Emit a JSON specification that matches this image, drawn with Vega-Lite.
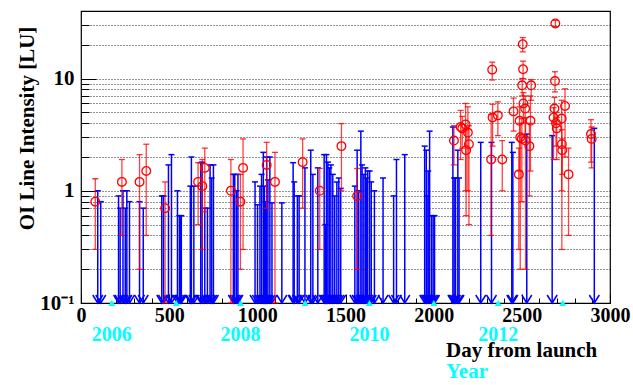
{
  "$schema": "https://vega.github.io/schema/vega-lite/v6.json",
  "width": 529,
  "height": 292,
  "autosize": {"type": "none"},
  "padding": {"left": 81, "top": 11, "right": 23, "bottom": 82},
  "background": "white",
  "config": {
    "view": {"stroke": "black", "strokeWidth": 1.2},
    "font": "Liberation Serif"
  },
  "title": {
    "text": "Day from launch",
    "subtitle": "Year",
    "orient": "bottom",
    "anchor": "start",
    "frame": "group",
    "align": "left",
    "dx": 365,
    "offset": -5,
    "font": "Liberation Serif",
    "fontSize": 21,
    "fontWeight": "bold",
    "color": "black",
    "subtitleFont": "Liberation Serif",
    "subtitleFontSize": 21,
    "subtitleFontWeight": "bold",
    "subtitleColor": "#00ffff",
    "subtitlePadding": 0
  },
  "datasets": {
    "limits": [
      {"day": 95, "ul": 1.0}, {"day": 112, "ul": 0.8}, {"day": 213, "ul": 0.9}, {"day": 222, "ul": 0.7},
      {"day": 238, "ul": 1.0}, {"day": 251, "ul": 0.7}, {"day": 260, "ul": 1.0}, {"day": 275, "ul": 0.8},
      {"day": 332, "ul": 0.8}, {"day": 353, "ul": 0.7}, {"day": 458, "ul": 0.9}, {"day": 468, "ul": 0.9},
      {"day": 496, "ul": 1.7}, {"day": 513, "ul": 2.1}, {"day": 547, "ul": 1.0}, {"day": 558, "ul": 0.6},
      {"day": 564, "ul": 0.6}, {"day": 569, "ul": 0.6}, {"day": 620, "ul": 1.1}, {"day": 626, "ul": 2.0},
      {"day": 640, "ul": 1.1}, {"day": 679, "ul": 1.78}, {"day": 687, "ul": 1.8}, {"day": 702, "ul": 0.7},
      {"day": 717, "ul": 0.7}, {"day": 732, "ul": 1.7}, {"day": 741, "ul": 1.3}, {"day": 751, "ul": 1.7},
      {"day": 864, "ul": 1.4}, {"day": 872, "ul": 1.4}, {"day": 882, "ul": 1.0}, {"day": 890, "ul": 1.4},
      {"day": 987, "ul": 1.2}, {"day": 1001, "ul": 0.75}, {"day": 1015, "ul": 1.1}, {"day": 1024, "ul": 1.4},
      {"day": 1034, "ul": 2.2}, {"day": 1040, "ul": 1.1}, {"day": 1046, "ul": 0.8}, {"day": 1053, "ul": 2.0},
      {"day": 1060, "ul": 1.25}, {"day": 1071, "ul": 2.0}, {"day": 1083, "ul": 0.78}, {"day": 1139, "ul": 0.78},
      {"day": 1203, "ul": 1.78}, {"day": 1209, "ul": 1.2}, {"day": 1227, "ul": 0.9}, {"day": 1237, "ul": 0.9},
      {"day": 1270, "ul": 1.6}, {"day": 1303, "ul": 2.3}, {"day": 1315, "ul": 1.4}, {"day": 1343, "ul": 1.6},
      {"day": 1379, "ul": 2.1}, {"day": 1386, "ul": 0.5}, {"day": 1392, "ul": 2.1}, {"day": 1400, "ul": 1.8},
      {"day": 1408, "ul": 1.6}, {"day": 1417, "ul": 1.7}, {"day": 1428, "ul": 1.4}, {"day": 1439, "ul": 0.9},
      {"day": 1451, "ul": 1.2}, {"day": 1462, "ul": 1.3}, {"day": 1473, "ul": 1.05}, {"day": 1553, "ul": 1.1},
      {"day": 1566, "ul": 2.3}, {"day": 1575, "ul": 1.0}, {"day": 1587, "ul": 3.4}, {"day": 1594, "ul": 1.7},
      {"day": 1604, "ul": 1.4}, {"day": 1613, "ul": 1.6}, {"day": 1620, "ul": 1.3}, {"day": 1626, "ul": 1.5},
      {"day": 1637, "ul": 1.5}, {"day": 1646, "ul": 1.2}, {"day": 1664, "ul": 1.0}, {"day": 1713, "ul": 1.3},
      {"day": 1773, "ul": 0.9}, {"day": 1789, "ul": 1.9}, {"day": 1836, "ul": 2.1}, {"day": 1949, "ul": 2.5},
      {"day": 1958, "ul": 2.3}, {"day": 1962, "ul": 0.9}, {"day": 1969, "ul": 1.5}, {"day": 1977, "ul": 3.4},
      {"day": 1988, "ul": 0.6}, {"day": 1997, "ul": 0.6}, {"day": 2005, "ul": 0.6}, {"day": 2109, "ul": 3.7},
      {"day": 2116, "ul": 1.3}, {"day": 2124, "ul": 1.3}, {"day": 2137, "ul": 2.3}, {"day": 2144, "ul": 1.3},
      {"day": 2267, "ul": 2.7}, {"day": 2328, "ul": 2.7}, {"day": 2443, "ul": 2.7}, {"day": 2449, "ul": 2.2},
      {"day": 2528, "ul": 3.2}, {"day": 2672, "ul": 3.1}, {"day": 2911, "ul": 3.6}
    ],
    "detections": [
      {"day": 81, "v": 0.8, "lo": 0.3, "hi": 1.28}, {"day": 232, "v": 1.2, "lo": 0.4, "hi": 1.9},
      {"day": 332, "v": 1.2, "lo": 0.2, "hi": 2.1}, {"day": 370, "v": 1.5, "lo": 0.4, "hi": 2.6},
      {"day": 477, "v": 0.7, "lo": 0.1, "hi": 1.2}, {"day": 664, "v": 1.2, "lo": 0.5, "hi": 1.78},
      {"day": 688, "v": 1.1, "lo": 0.3, "hi": 1.9}, {"day": 702, "v": 1.6, "lo": 0.65, "hi": 2.4},
      {"day": 850, "v": 1.0, "lo": 0.1, "hi": 1.9}, {"day": 904, "v": 0.8, "lo": 0.2, "hi": 1.4},
      {"day": 919, "v": 1.6, "lo": 0.3, "hi": 2.9}, {"day": 1053, "v": 1.7, "lo": 0.7, "hi": 2.7},
      {"day": 1100, "v": 1.2, "lo": 0.1, "hi": 2.2}, {"day": 1257, "v": 1.8, "lo": 0.7, "hi": 2.9},
      {"day": 1354, "v": 1.0, "lo": 0.3, "hi": 1.58}, {"day": 1477, "v": 2.5, "lo": 1.0, "hi": 3.97},
      {"day": 1566, "v": 0.9, "lo": 0.2, "hi": 1.58}, {"day": 2115, "v": 2.8, "lo": 1.7, "hi": 3.8},
      {"day": 2153, "v": 3.7, "lo": 1.9, "hi": 5.2}, {"day": 2162, "v": 3.6, "lo": 2.4, "hi": 4.6},
      {"day": 2181, "v": 3.9, "lo": 1.0, "hi": 6.0}, {"day": 2184, "v": 2.3, "lo": 0.6, "hi": 3.5},
      {"day": 2194, "v": 3.3, "lo": 1.0, "hi": 5.6}, {"day": 2200, "v": 2.6, "lo": 0.5, "hi": 3.8},
      {"day": 2326, "v": 1.9, "lo": 0.4, "hi": 4.8}, {"day": 2332, "v": 12.0, "lo": 9.7, "hi": 14.0},
      {"day": 2334, "v": 4.5, "lo": 2.5, "hi": 5.9}, {"day": 2364, "v": 4.7, "lo": 3.1, "hi": 6.2},
      {"day": 2389, "v": 1.9, "lo": 1.0, "hi": 2.8}, {"day": 2453, "v": 5.1, "lo": 3.4, "hi": 6.7},
      {"day": 2483, "v": 1.4, "lo": 0.3, "hi": 2.4}, {"day": 2487, "v": 4.2, "lo": 1.5, "hi": 5.6},
      {"day": 2491, "v": 3.0, "lo": 0.2, "hi": 4.0}, {"day": 2500, "v": 2.9, "lo": 0.8, "hi": 4.4},
      {"day": 2502, "v": 8.7, "lo": 7.0, "hi": 10.0}, {"day": 2505, "v": 20.2, "lo": 17.3, "hi": 23.2},
      {"day": 2507, "v": 12.1, "lo": 10.0, "hi": 14.3}, {"day": 2509, "v": 6.0, "lo": 4.0, "hi": 7.5},
      {"day": 2519, "v": 5.4, "lo": 3.0, "hi": 7.0}, {"day": 2521, "v": 2.8, "lo": 0.2, "hi": 4.5},
      {"day": 2543, "v": 2.5, "lo": 0.9, "hi": 4.0}, {"day": 2549, "v": 4.2, "lo": 1.5, "hi": 7.0},
      {"day": 2553, "v": 8.7, "lo": 6.4, "hi": 9.8}, {"day": 2680, "v": 4.5, "lo": 1.9, "hi": 5.5},
      {"day": 2685, "v": 5.4, "lo": 4.0, "hi": 6.8}, {"day": 2688, "v": 9.5, "lo": 7.6, "hi": 11.5},
      {"day": 2690, "v": 31, "lo": 29, "hi": 33}, {"day": 2694, "v": 4.0, "lo": 2.5, "hi": 5.0},
      {"day": 2698, "v": 3.6, "lo": 1.9, "hi": 4.5}, {"day": 2726, "v": 4.4, "lo": 1.0, "hi": 6.4},
      {"day": 2727, "v": 2.6, "lo": 0.3, "hi": 3.5}, {"day": 2729, "v": 2.3, "lo": 1.4, "hi": 2.9},
      {"day": 2745, "v": 5.7, "lo": 2.0, "hi": 8.1}, {"day": 2765, "v": 1.4, "lo": 0.4, "hi": 2.4},
      {"day": 2892, "v": 3.2, "lo": 1.8, "hi": 4.3}, {"day": 2896, "v": 2.9, "lo": 1.6, "hi": 3.7}
    ],
    "years": [
      {"day": 175, "year": 2006}, {"day": 540, "year": 2007}, {"day": 905, "year": 2008},
      {"day": 1271, "year": 2009}, {"day": 1636, "year": 2010}, {"day": 2001, "year": 2011},
      {"day": 2366, "year": 2012}, {"day": 2732, "year": 2013}
    ]
  },
  "layer": [
    {
      "data": {"name": "limits"},
      "mark": {"type": "rule", "color": "#0000ff", "strokeWidth": 1.5},
      "encoding": {
        "x": {
          "field": "day", "type": "quantitative",
          "scale": {"domain": [0, 3000], "nice": false, "zero": false},
          "axis": {
            "orient": "bottom",
            "values": [100, 200, 300, 400, 600, 700, 800, 900, 1100, 1200, 1300, 1400, 1600, 1700, 1800, 1900, 2100, 2200, 2300, 2400, 2600, 2700, 2800, 2900],
            "tickSize": -5, "tickColor": "black", "tickWidth": 1,
            "labels": false, "domain": false, "grid": false, "title": null
          }
        },
        "y": {
          "field": "ul", "type": "quantitative",
          "scale": {"type": "log", "domain": [0.1, 40], "nice": false},
          "axis": {
            "orient": "left",
            "values": [0.2, 0.3, 0.4, 0.5, 0.6, 0.7, 0.8, 0.9, 1, 2, 3, 4, 5, 6, 7, 8, 9, 10, 20, 30],
            "tickSize": -8, "tickColor": "black", "tickWidth": 1,
            "labels": false, "domain": false, "title": null,
            "grid": true, "gridColor": "black", "gridDash": [1, 2], "gridWidth": 1, "gridOpacity": 0.85
          }
        },
        "y2": {"datum": 0.1}
      }
    },
    {
      "data": {"name": "limits"},
      "mark": {"type": "tick", "orient": "horizontal", "size": 6, "thickness": 1.5, "color": "#0000ff", "opacity": 1},
      "encoding": {
        "x": {
          "field": "day", "type": "quantitative",
          "axis": {
            "orient": "bottom",
            "values": [0, 500, 1000, 1500, 2000, 2500, 3000],
            "format": "d",
            "tickSize": -9, "tickColor": "black", "tickWidth": 1,
            "domain": false, "grid": false, "title": null,
            "labelFont": "Liberation Serif", "labelFontSize": 20, "labelFontWeight": "bold",
            "labelColor": "black", "labelPadding": 11, "labelOverlap": false, "labelFlush": false, "labelBound": false
          }
        },
        "y": {
          "field": "ul", "type": "quantitative",
          "axis": {
            "orient": "left",
            "values": [0.1, 1, 10],
            "tickSize": -15, "tickColor": "black", "tickWidth": 1,
            "domain": false, "grid": false,
            "labelExpr": "datum.value < 0.5 ? '10⁻¹' : (datum.value < 5 ? '1' : '10')",
            "labelFont": "Liberation Serif", "labelFontSize": 21, "labelFontWeight": "bold",
            "labelColor": "black", "labelPadding": 22, "labelOverlap": false, "labelFlush": false, "labelBound": false,
            "title": "OI Line Intensity [LU]",
            "titleFont": "Liberation Serif", "titleFontSize": 21, "titleFontWeight": "bold", "titleColor": "black",
            "titleX": -48, "titleY": 117, "titleBaseline": "alphabetic", "titleAngle": -90
          }
        }
      }
    },
    {
      "data": {"name": "limits"},
      "mark": {"type": "point", "shape": "M-1,-1.6L0,0L1,-1.6", "filled": false, "stroke": "#0000ff", "strokeWidth": 1.5, "size": 100, "opacity": 1},
      "encoding": {
        "x": {"field": "day", "type": "quantitative", "axis": null},
        "y": {"datum": 0.1, "type": "quantitative", "axis": null}
      }
    },
    {
      "data": {"name": "detections"},
      "mark": {"type": "rule", "color": "#ff0000", "strokeWidth": 1.3, "opacity": 0.75},
      "encoding": {
        "x": {"field": "day", "type": "quantitative", "axis": null},
        "y": {"field": "lo", "type": "quantitative", "axis": null},
        "y2": {"field": "hi"}
      }
    },
    {
      "data": {"name": "detections"},
      "mark": {"type": "tick", "orient": "horizontal", "size": 6, "thickness": 1.3, "color": "#ff0000", "opacity": 0.8},
      "encoding": {
        "x": {"field": "day", "type": "quantitative", "axis": null},
        "y": {"field": "hi", "type": "quantitative", "axis": null}
      }
    },
    {
      "data": {"name": "detections"},
      "mark": {"type": "tick", "orient": "horizontal", "size": 6, "thickness": 1.3, "color": "#ff0000", "opacity": 0.8},
      "encoding": {
        "x": {"field": "day", "type": "quantitative", "axis": null},
        "y": {"field": "lo", "type": "quantitative", "axis": null}
      }
    },
    {
      "data": {"name": "detections"},
      "mark": {"type": "point", "shape": "circle", "filled": false, "stroke": "#ff0000", "strokeWidth": 1.3, "size": 75, "opacity": 1},
      "encoding": {
        "x": {"field": "day", "type": "quantitative", "axis": null},
        "y": {"field": "v", "type": "quantitative", "axis": null}
      }
    },
    {
      "data": {"name": "years"},
      "mark": {"type": "point", "shape": "triangle-up", "filled": true, "color": "#00ffff", "size": 50, "opacity": 1},
      "encoding": {
        "x": {"field": "day", "type": "quantitative", "axis": null},
        "y": {"datum": 0.1, "type": "quantitative", "axis": null}
      }
    },
    {
      "data": {"name": "years"},
      "transform": [{"filter": "datum.year % 2 == 0"}],
      "mark": {"type": "text", "color": "#00ffff", "font": "Liberation Serif", "fontSize": 20, "fontWeight": "bold", "baseline": "middle", "align": "center", "dy": 32},
      "encoding": {
        "x": {"field": "day", "type": "quantitative", "axis": null},
        "y": {"datum": 0.1, "type": "quantitative", "axis": null},
        "text": {"field": "year", "type": "nominal"}
      }
    }
  ],
  "resolve": {"axis": {"x": "independent", "y": "independent"}}
}
